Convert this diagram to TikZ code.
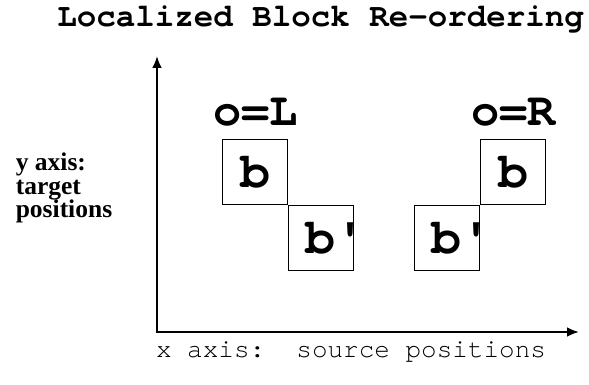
\documentclass[tikz,border=0pt]{standalone}
\usepackage{fontspec}
\setmainfont{Liberation Serif}
\setmonofont{TeX Gyre Cursor}
\usetikzlibrary{positioning,arrows.meta}

\tikzset{
  blk/.style={draw, line width=1pt, minimum size=65pt, inner sep=0pt,
    font=\fontsize{50}{50}\selectfont\ttfamily\bfseries},
  blkp/.style={blk, path picture={
    \node[anchor=west, inner sep=0pt, font=\fontsize{50}{50}\selectfont\ttfamily\bfseries]
      at ([xshift=14pt]path picture bounding box.west) {#1};}},
  orient/.style={font=\fontsize{47}{47}\selectfont\ttfamily\bfseries},
}

\begin{document}
\begin{tikzpicture}[>={Latex[length=12pt,width=10pt]}, x=1pt, y=-1pt]
\useasboundingbox (0,0) rectangle (589,385);

\node (title) at (320.5,19) {\fontsize{32.5}{33}\selectfont\ttfamily\bfseries Localized Block Re-ordering};

% axes
\coordinate (origin) at (157,332);
\coordinate (ytip) at (157,56);
\coordinate (xtip) at (579,332);
\draw[->, line width=2.6pt] (origin)--(ytip);
\draw[->, line width=2.6pt] ([xshift=-1.3pt]origin)--(xtip);

\node[align=left, font=\fontsize{25.5}{23.5}\selectfont\bfseries] (ylab) at (64,188) {y axis:\\target\\positions};
\node[font=\fontsize{26}{26}\selectfont\ttfamily] (xlab) at (351,352) {x axis:~~source positions};

% o=L
\node[blk] (bL) at (255,172) {b};
\node[blkp={b'}, below right=0pt and 0pt of bL] (bpL) {};
\node[orient] (oL) at (255.5,112) {o=L};

% o=R
\node[blk] (bR) at (513,172) {b};
\node[blkp={b'}, below left=0pt and 0pt of bR] (bpR) {};
\node[orient] (oR) at (513.5,112) {o=R};
\end{tikzpicture}
\end{document}
